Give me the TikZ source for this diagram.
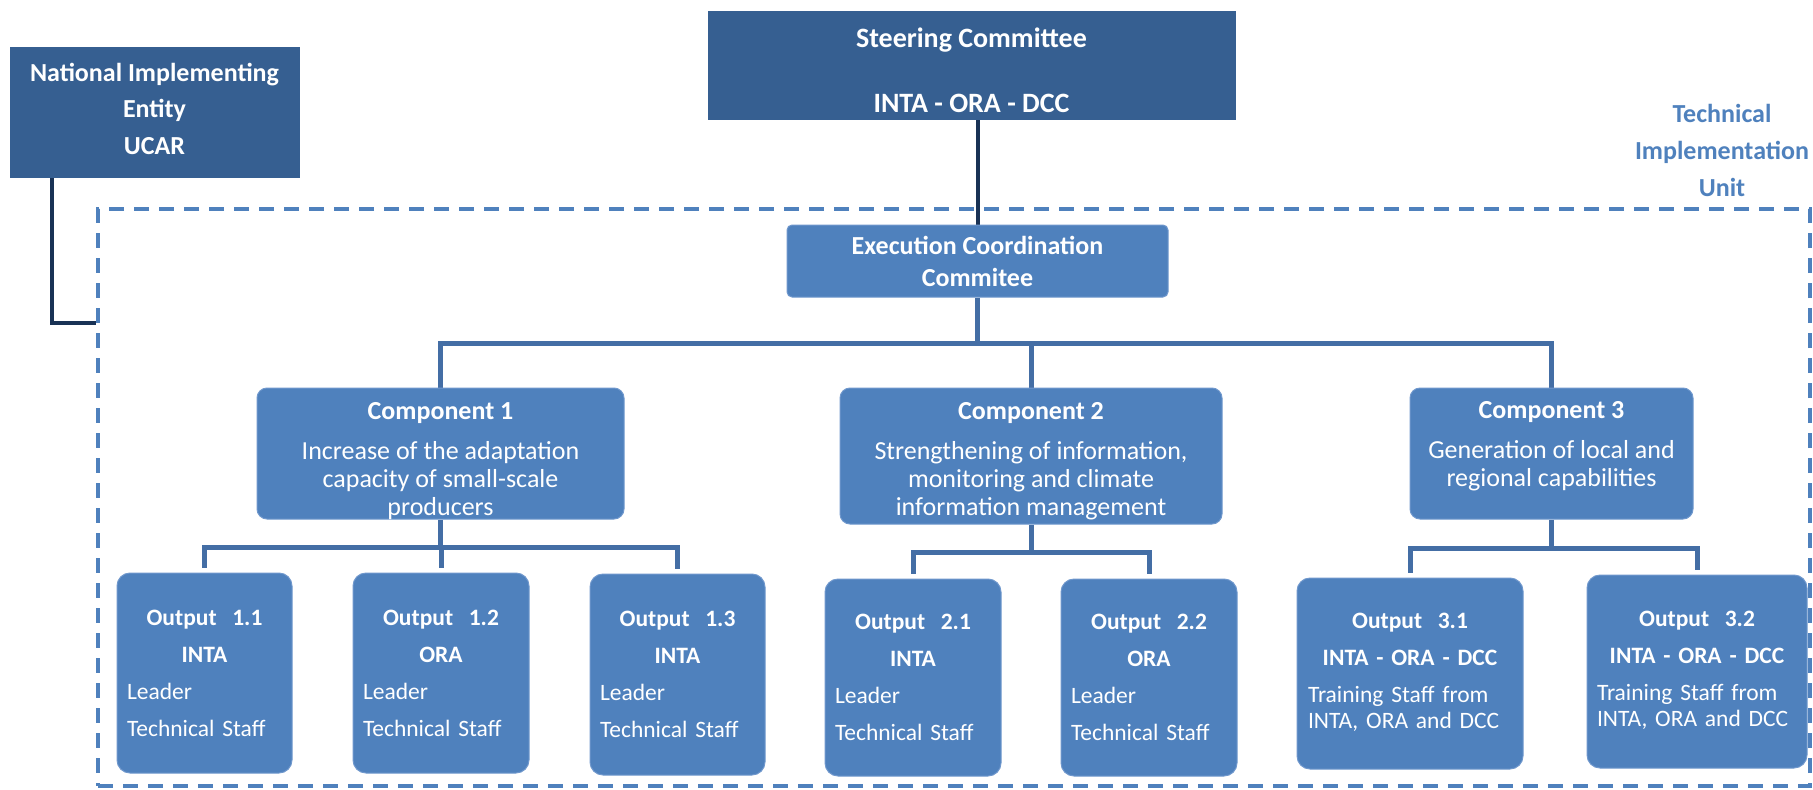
\documentclass[tikz,border=0pt]{standalone}
\usepackage{fontspec}
\setmainfont{Carlito}
\usetikzlibrary{backgrounds}
\definecolor{darkbox}{RGB}{54,95,145}
\definecolor{lightbox}{RGB}{79,129,189}
\definecolor{boxedge}{RGB}{112,152,205}
\definecolor{busblue}{RGB}{68,110,165}
\definecolor{navyline}{RGB}{25,50,85}
\definecolor{tiublue}{RGB}{79,129,189}
\begin{document}
\begin{tikzpicture}[x=1pt,y=-1pt,
  topbox/.style={rectangle, fill=darkbox, draw=darkbox, inner sep=0pt},
  ecbox/.style={rectangle, rounded corners=5pt, fill=lightbox, draw=boxedge, line width=1pt, inner sep=0pt},
  compbox/.style={rectangle, rounded corners=10pt, fill=lightbox, draw=boxedge, line width=1pt, inner sep=0pt},
  outbox/.style={rectangle, rounded corners=13pt, fill=lightbox, draw=boxedge, line width=1pt, inner sep=0pt},
  unitborder/.style={rectangle, draw=lightbox, line width=4pt, dash pattern=on 15pt off 10pt, inner sep=0pt},
  txtc/.style={text=white, align=center, inner sep=0pt},
  outtxt/.style={text=white, inner sep=0pt, font=\fontsize{23.5}{37}\selectfont},
  buslink/.style={draw=busblue, line width=5pt},
  navylink/.style={draw=navyline, line width=4pt},
  bigbold/.style={font=\bfseries\fontsize{26}{#1}\selectfont}
]
\useasboundingbox (0,0) rectangle (1813,790);

% boxes
\node[topbox, minimum width=289, minimum height=130] (nie) at (154.5,112) {};
\node[topbox, minimum width=527, minimum height=108] (sc) at (971.5,65) {};
\node[ecbox, minimum width=381, minimum height=72] (ecc) at (977.5,261) {};
\node[compbox, minimum width=367, minimum height=131] (c1) at (440.5,453.5) {};
\node[compbox, minimum width=382, minimum height=136] (c2) at (1031,456) {};
\node[compbox, minimum width=283, minimum height=131] (c3) at (1551.5,453.5) {};
\node[outbox, minimum width=175, minimum height=200] (o11) at (204.5,673) {};
\node[outbox, minimum width=176, minimum height=200] (o12) at (441,673) {};
\node[outbox, minimum width=175, minimum height=201] (o13) at (677.5,674.5) {};
\node[outbox, minimum width=176, minimum height=197] (o21) at (913,677.5) {};
\node[outbox, minimum width=176, minimum height=197] (o22) at (1149,677.5) {};
\node[outbox, minimum width=226, minimum height=191] (o31) at (1410,673.5) {};
\node[outbox, minimum width=220, minimum height=193] (o32) at (1697,671.5) {};

% background: white page, dashed unit border, connectors
\begin{scope}[on background layer]
\fill[white] (0,0) rectangle (1813,790);
\node[unitborder, minimum width=1712, minimum height=577] (tiu) at (954,497.5) {};

\coordinate (nieend) at (98,323);
\draw[navylink] ([xshift=-102.5pt]nie.south) |- (tiu.west |- nieend);
\draw[navylink] (sc.south -| ecc.north) -- (ecc.north);

\coordinate (bus0) at (0,343);
\draw[buslink] (ecc.south) -- (ecc.south |- bus0);
\draw[buslink] (c1.north) |- (c3.north |- bus0) -- (c3.north);
\draw[buslink] (c2.north) -- (c2.north |- bus0);

\coordinate (sb1) at (0,547);
\draw[buslink] (c1.south) -- (c1.south |- sb1);
\draw[buslink, shorten <=5pt, shorten >=5pt] (o11.north) |- (o13.north |- sb1) -- (o13.north);
\draw[buslink, shorten <=5pt] (o12.north) -- (o12.north |- sb1);

\coordinate (sb2) at (0,552);
\draw[buslink] (c2.south) -- (c2.south |- sb2);
\draw[buslink, shorten <=5pt, shorten >=5pt] (o21.north) |- (o22.north |- sb2) -- (o22.north);

\coordinate (sb3) at (0,548);
\draw[buslink] (c3.south) -- (c3.south |- sb3);
\draw[buslink, shorten <=5pt, shorten >=5pt] (o31.north) |- (o32.north |- sb3) -- (o32.north);
\end{scope}

% texts
\node[txtc, bigbold=36.5] (niet) at (154.5,108.5) {National Implementing\\Entity\\UCAR};
\node[txtc, font=\bfseries\fontsize{28}{32}\selectfont] (sct) at (971.5,70.5) {Steering Committee\\[33pt]INTA - ORA - DCC};
\node[align=center, inner sep=0pt, text=tiublue, bigbold=37] (tiut) at (1722,150) {Technical\\Implementation\\Unit};
\node[txtc, bigbold=32] (ecct) at (977.5,261) {Execution Coordination\\Commitee};

\node[txtc, font=\fontsize{26}{28}\selectfont] (c1t) at (440.5,461) {\textbf{Component 1}\\[12pt]Increase of the adaptation\\capacity of small-scale\\producers};
\node[txtc, font=\fontsize{26}{28}\selectfont] (c2t) at (1031,461.5) {\textbf{Component 2}\\[12pt]Strengthening of information,\\monitoring and climate\\information management};
\node[txtc, font=\fontsize{26}{28}\selectfont] (c3t) at (1551.5,446.5) {\textbf{Component 3}\\[12pt]Generation of local and\\regional capabilities};

\node[outtxt, text width=155pt] (o11t) at (o11) {\centering\textbf{Output\ \ 1.1}\\\textbf{INTA}\par\raggedright Leader\\Technical Staff};
\node[outtxt, text width=156pt] (o12t) at (o12) {\centering\textbf{Output\ \ 1.2}\\\textbf{ORA}\par\raggedright Leader\\Technical Staff};
\node[outtxt, text width=155pt] (o13t) at (o13) {\centering\textbf{Output\ \ 1.3}\\\textbf{INTA}\par\raggedright Leader\\Technical Staff};
\node[outtxt, text width=156pt] (o21t) at (o21) {\centering\textbf{Output\ \ 2.1}\\\textbf{INTA}\par\raggedright Leader\\Technical Staff};
\node[outtxt, text width=156pt] (o22t) at (o22) {\centering\textbf{Output\ \ 2.2}\\\textbf{ORA}\par\raggedright Leader\\Technical Staff};
\node[outtxt, text width=204pt] (o31t) at ([yshift=1pt]o31) {\centering\textbf{Output\ \ 3.1}\\\textbf{INTA - ORA - DCC}\par\raggedright Training Staff from\\[-11pt]INTA, ORA and DCC};
\node[outtxt, text width=200pt] (o32t) at ([yshift=1pt]o32) {\centering\textbf{Output\ \ 3.2}\\\textbf{INTA - ORA - DCC}\par\raggedright Training Staff from\\[-11pt]INTA, ORA and DCC};
\end{tikzpicture}
\end{document}
